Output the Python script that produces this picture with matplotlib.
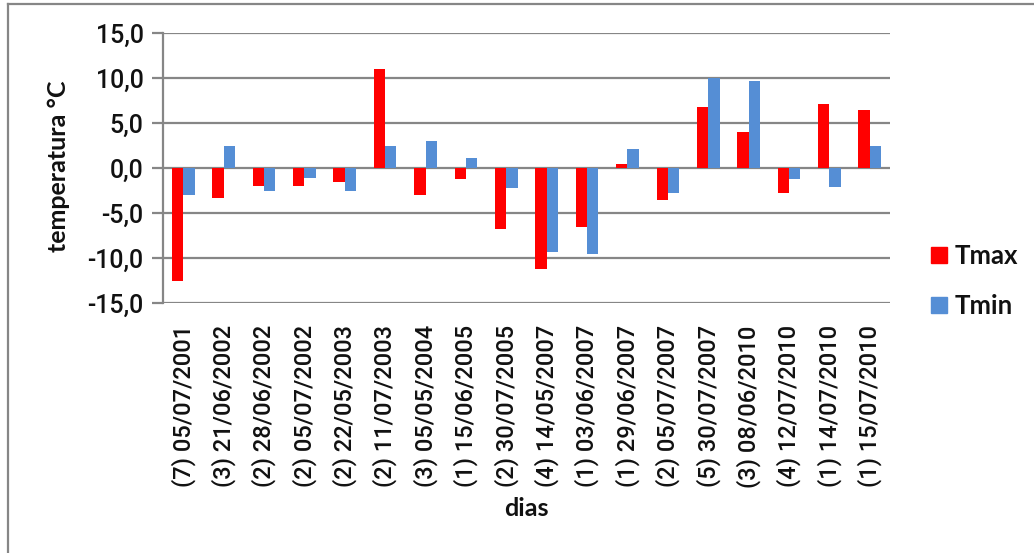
import matplotlib
matplotlib.use("Agg")
import matplotlib.pyplot as plt
import numpy as np
from matplotlib.lines import Line2D
from matplotlib.patches import Patch

categories = ["(7) 05/07/2001", "(3) 21/06/2002", "(2) 28/06/2002", "(2) 05/07/2002",
              "(2) 22/05/2003", "(2) 11/07/2003", "(3) 05/05/2004", "(1) 15/06/2005",
              "(2) 30/07/2005", "(4) 14/05/2007", "(1) 03/06/2007", "(1) 29/06/2007",
              "(2) 05/07/2007", "(5) 30/07/2007", "(3) 08/06/2010", "(4) 12/07/2010",
              "(1) 14/07/2010", "(1) 15/07/2010"]
tmax = [-12.5, -3.3, -2.0, -2.0, -1.5, 11.0, -3.0, -1.2, -6.8, -11.2, -6.6, 0.4,
        -3.5, 6.8, 4.0, -2.8, 7.1, 6.5]
tmin = [-3.0, 2.5, -2.5, -1.1, -2.5, 2.5, 3.0, 1.1, -2.2, -9.3, -9.5, 2.1,
        -2.8, 10.0, 9.7, -1.2, -2.1, 2.5]
yticks = [-15, -10, -5, 0, 5, 10, 15]
ytick_labels = ["-15,0", "-10,0", "-5,0", "0,0", "5,0", "10,0", "15,0"]

RED = "#FF0000"
BLUE = "#558ED5"
GRID = "#868686"

W, H = 1034, 553
fig = plt.figure(figsize=(W / 100, H / 100), dpi=100)
ax = fig.add_axes([163 / W, 1 - 303 / H, (890 - 163) / W, (303 - 33) / H])

x = np.arange(len(categories))
bw = 0.28
ax.bar(x - bw / 2, tmax, bw, color=RED, label="Tmax", zorder=3)
ax.bar(x + bw / 2, tmin, bw, color=BLUE, label="Tmin", zorder=3)

ax.set_xlim(-0.5, len(categories) - 0.5)
ax.set_ylim(-15, 15)
ax.set_yticks(yticks)
ax.set_yticklabels(ytick_labels, fontfamily="Roboto", fontweight="medium", fontsize=18,
                   color="#111111")
ax.yaxis.grid(True, color=GRID, linewidth=1.6, zorder=1)
ax.set_axisbelow(True)
ax.tick_params(axis="y", length=8, width=1.6, color=GRID, pad=6)
ax.tick_params(axis="x", length=0, pad=16)
ax.set_xticks(x)
ax.set_xticklabels(categories, rotation=90, fontfamily="Roboto", fontweight="medium",
                   fontsize=17, color="#111111")
for s in ["top", "right", "bottom"]:
    ax.spines[s].set_visible(False)
ax.spines["left"].set_color(GRID)
ax.spines["left"].set_linewidth(1.6)

fig.text(58 / W, 1 - 166 / H, "temperatura °C", rotation=90, ha="center", va="center",
         fontfamily="Lato", fontweight="bold", fontsize=18, color="#111111")
fig.text(526 / W, 1 - 509 / H, "dias", ha="center", va="center",
         fontfamily="Lato", fontweight="bold", fontsize=18, color="#111111")

handles = [Patch(color=RED, label="Tmax"), Patch(color=BLUE, label="Tmin")]
fig.legend(handles=handles, loc="center left", bbox_to_anchor=(908 / W, 1 - 281 / H),
           frameon=False, prop={"family": "Lato", "size": 18.5, "weight": "bold"},
           labelcolor="#111111",
           handlelength=0.6, handleheight=0.6, handletextpad=0.3, labelspacing=1.0)

# outer chart border (top and left visible)
fig.add_artist(Line2D([8 / W, 1.0], [1 - 4 / H, 1 - 4 / H], color=GRID, linewidth=1.6,
                      transform=fig.transFigure))
fig.add_artist(Line2D([8 / W, 8 / W], [0.0, 1 - 4 / H], color=GRID, linewidth=1.6,
                      transform=fig.transFigure))

fig.savefig("out.png", dpi=100)
